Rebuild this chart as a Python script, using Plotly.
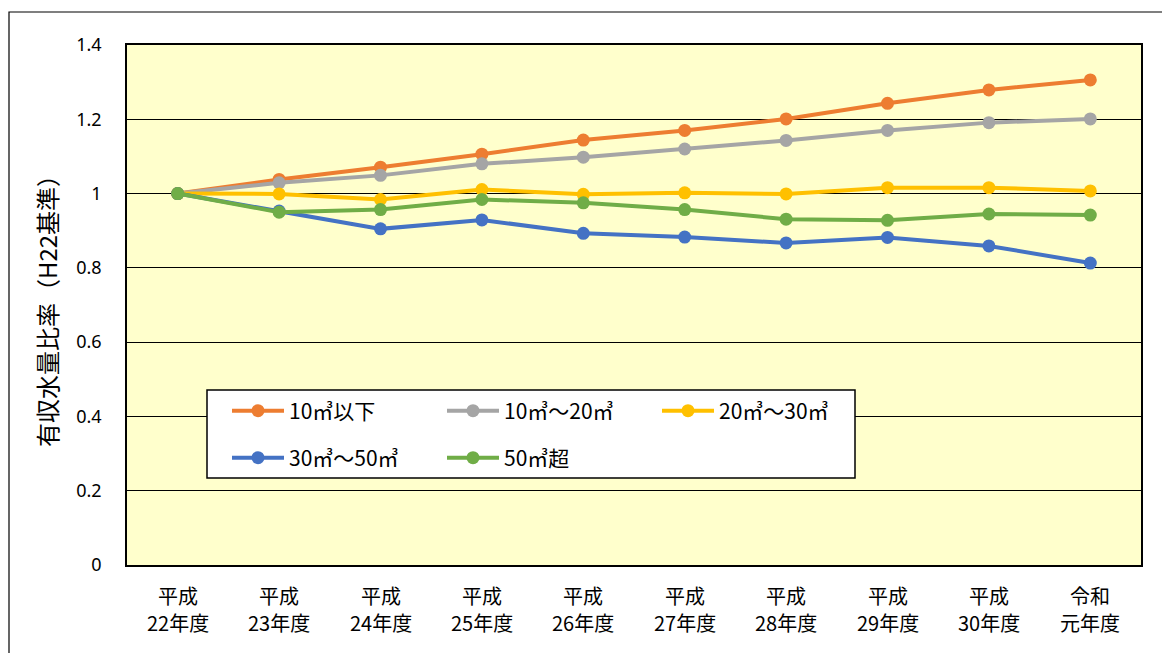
import plotly.graph_objects as go

# Fiscal years (Heisei 22 to Reiwa 1): category keys and the two label lines
years = ["H22", "H23", "H24", "H25", "H26", "H27", "H28", "H29", "H30", "R1"]
era_line = ["平成", "平成", "平成", "平成", "平成", "平成", "平成", "平成", "平成", "令和"]
year_line = ["22年度", "23年度", "24年度", "25年度", "26年度", "27年度", "28年度", "29年度", "30年度", "元年度"]

# Billed water volume ratio by usage class (H22 = 1)
under_10 = [1.000, 1.038, 1.071, 1.106, 1.144, 1.170, 1.201, 1.243, 1.279, 1.306]
from_10_to_20 = [1.000, 1.029, 1.049, 1.080, 1.098, 1.120, 1.143, 1.170, 1.191, 1.201]
from_20_to_30 = [1.000, 0.999, 0.984, 1.011, 0.998, 1.002, 0.999, 1.016, 1.016, 1.007]
from_30_to_50 = [1.000, 0.953, 0.905, 0.929, 0.893, 0.883, 0.867, 0.882, 0.859, 0.813]
over_50 = [1.000, 0.950, 0.957, 0.984, 0.975, 0.957, 0.931, 0.928, 0.945, 0.942]

y_ticks = [0, 0.2, 0.4, 0.6, 0.8, 1.0, 1.2, 1.4]
y_tick_text = ["0", "0.2", "0.4", "0.6", "0.8", "1", "1.2", "1.4"]

series = [
    ("10㎥以下", under_10, "#ED7D31", "legend"),
    ("10㎥～20㎥", from_10_to_20, "#A5A5A5", "legend"),
    ("20㎥～30㎥", from_20_to_30, "#FFC000", "legend"),
    ("30㎥～50㎥", from_30_to_50, "#4472C4", "legend2"),
    ("50㎥超", over_50, "#70AD47", "legend2"),
]

W, H = 1162, 653
L, R, T, B = 127, 21, 45, 88
pw, ph = W - L - R, H - T - B


def px_x(p):
    return (p - L) / pw


def px_y(p):
    return (H - B - p) / ph


fig = go.Figure()
for name, vals, color, lg in series:
    fig.add_trace(go.Scatter(
        x=years, y=vals, name=name, mode="lines+markers",
        line=dict(color=color, width=4),
        marker=dict(color=color, size=13),
        legend=lg,
    ))

jp = "Noto Sans CJK JP"

# two-line category labels under the axis
annotations = []
for key, era, yr in zip(years, era_line, year_line):
    for text, ypx in ((era, 595), (yr, 622)):
        annotations.append(dict(
            x=key, xref="x", y=px_y(ypx), yref="paper",
            text=text, showarrow=False, xanchor="center", yanchor="middle",
            font=dict(family=jp, size=20, color="black"),
        ))

legend_common = dict(
    orientation="h", xanchor="left", yanchor="middle",
    bgcolor="rgba(0,0,0,0)", borderwidth=0,
    font=dict(family=jp, size=21, color="black"),
    entrywidth=148, entrywidthmode="pixels",
    itemwidth=52,
)

fig.update_layout(
    width=W, height=H,
    margin=dict(l=L, r=R, t=T, b=B),
    paper_bgcolor="white",
    plot_bgcolor="#FFFFCC",
    showlegend=True,
    legend=dict(x=px_x(227), y=px_y(411), **legend_common),
    legend2=dict(x=px_x(227), y=px_y(458), **legend_common),
    xaxis=dict(
        type="category", range=[-0.5, 9.5],
        showgrid=False, showline=True, linecolor="black", linewidth=1.5, mirror=True,
        ticks="", showticklabels=False,
    ),
    yaxis=dict(
        range=[0, 1.4], tickvals=y_ticks, ticktext=y_tick_text,
        showgrid=True, gridcolor="black", gridwidth=1.2,
        showline=True, linecolor="black", linewidth=1.5, mirror=True,
        zeroline=False, ticks="", ticklabelstandoff=20,
        tickfont=dict(family="Noto Sans", size=18, color="black"),
        title=dict(text="有収水量比率（H22基準）", standoff=12,
                   font=dict(family=jp, size=24, color="black")),
    ),
    annotations=annotations,
    shapes=[
        # outer chart frame
        dict(type="rect", xref="paper", yref="paper",
             x0=px_x(9), x1=px_x(1175), y0=px_y(670), y1=px_y(12),
             line=dict(color="black", width=1.2), fillcolor="rgba(0,0,0,0)", layer="below"),
        # legend box
        dict(type="rect", xref="paper", yref="paper",
             x0=px_x(207), x1=px_x(855), y0=px_y(478), y1=px_y(390),
             line=dict(color="black", width=1.5), fillcolor="white", layer="above"),
    ],
)

fig.write_html("out.html")
